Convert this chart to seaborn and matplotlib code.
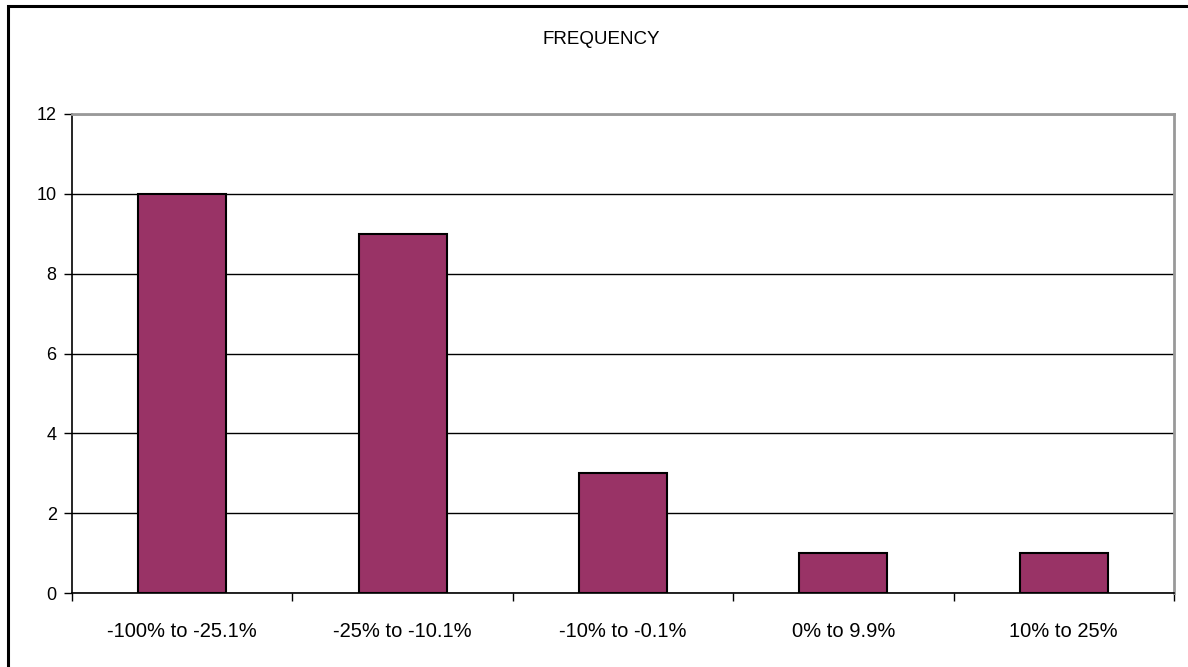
import matplotlib
matplotlib.use("Agg")
import matplotlib.pyplot as plt
import seaborn as sns
import pandas as pd
from matplotlib.patches import Rectangle

categories = ["-100% to -25.1%", "-25% to -10.1%", "-10% to -0.1%", "0% to 9.9%", "10% to 25%"]
counts = [10, 9, 3, 1, 1]
y_ticks = [0, 2, 4, 6, 8, 10, 12]

sns.set_style("white")
plt.rcParams["font.family"] = ["Liberation Sans", "DejaVu Sans"]
plt.rcParams["text.color"] = "black"
plt.rcParams["xtick.color"] = "black"
plt.rcParams["ytick.color"] = "black"

df = pd.DataFrame({"range": categories, "count": counts})

fig = plt.figure(figsize=(11.88, 6.67), dpi=100)
ax = fig.add_axes([72 / 1188, 1 - 593 / 667, (1174 - 72) / 1188, (593 - 114) / 667])

sns.barplot(data=df, x="range", y="count", color="#993366", width=0.4,
            edgecolor="black", linewidth=1.5, saturation=1, ax=ax, zorder=3)

ax.set_ylim(0, 12)
ax.set_xlim(-0.5, len(categories) - 0.5)
ax.set_yticks(y_ticks)
ax.set_yticklabels([str(v) for v in y_ticks], fontsize=13)
ax.yaxis.grid(True, color="black", linewidth=1, zorder=0)
ax.xaxis.grid(False)
ax.set_xlabel("")
ax.set_ylabel("")

# category labels centred, tick marks on the boundaries between categories
ax.set_xticks(range(len(categories)))
ax.set_xticklabels(categories, fontsize=14.5)
ax.tick_params(axis="x", which="major", length=0, pad=21)
ax.set_xticks([i + 0.5 for i in range(-1, len(categories))], minor=True)
ax.tick_params(axis="x", which="minor", length=6, width=1, color="black", direction="out", bottom=True)
ax.tick_params(axis="y", length=6, width=1, color="black", direction="out", left=True, pad=5)

for side in ("left", "bottom"):
    ax.spines[side].set_color("black")
    ax.spines[side].set_linewidth(1.2)
for side in ("top", "right"):
    ax.spines[side].set_visible(True)
    ax.spines[side].set_color("#999999")
    ax.spines[side].set_linewidth(2)

fig.text(601 / 1188, 1 - 40 / 667, "FREQUENCY", ha="center", va="center", fontsize=13.5)

# outer chart frame; its right and bottom edges run past the canvas
fig.patches.append(Rectangle((8 / 1188, -0.05), 1.1, 1 - 6 / 667 + 0.05,
                             transform=fig.transFigure, fill=False,
                             edgecolor="black", linewidth=2.2, clip_on=False))

fig.savefig("out.png", dpi=100)
